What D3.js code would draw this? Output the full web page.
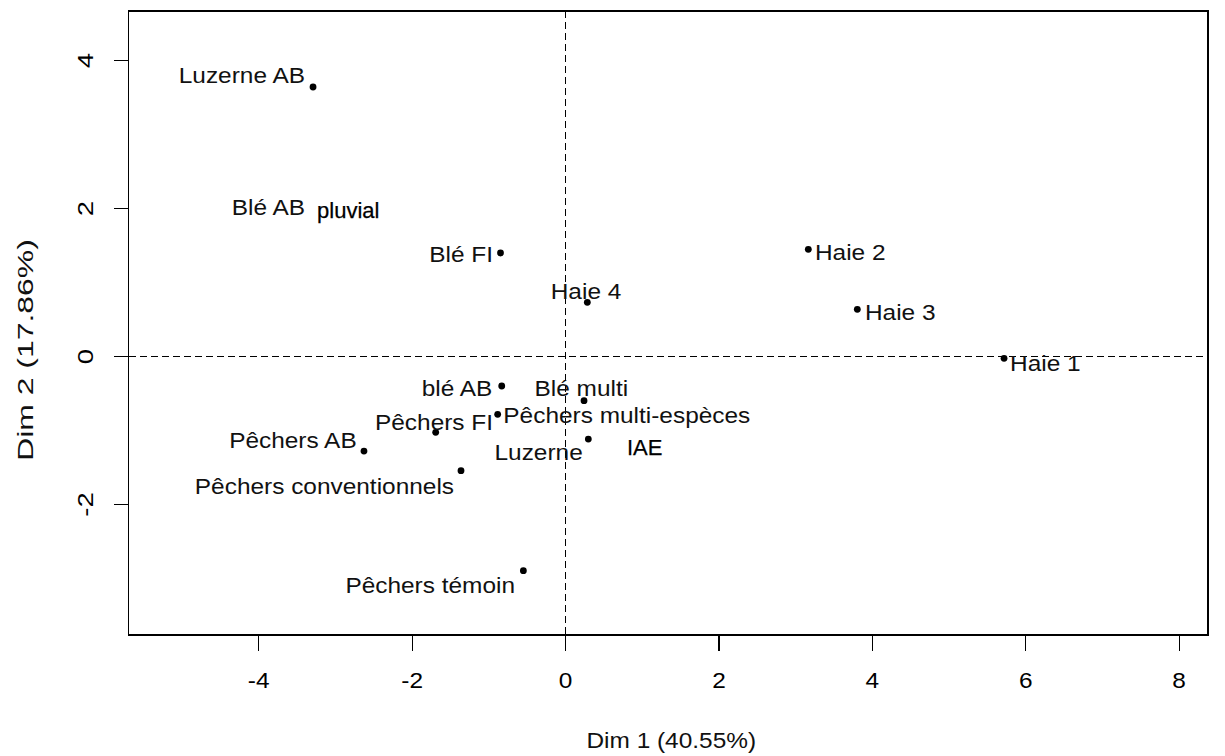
<!DOCTYPE html>
<html><head><meta charset="utf-8">
<script src="https://cdn.jsdelivr.net/npm/d3@7/dist/d3.min.js"></script>
<style>body{margin:0;background:#fff}svg{display:block}</style>
</head><body><svg id="c" width="1225" height="756"></svg>
<script>
// ---- data ----
const names = ["Luzerne AB","Blé AB","Blé FI","Haie 4","Haie 2","Haie 3","Haie 1","blé AB","Blé multi",
  "Pêchers multi-espèces","Pêchers FI","Luzerne","Pêchers AB","Pêchers conventionnels","Pêchers témoin"];
const dim1 = [-3.285,-3.20,-0.841,0.291,3.172,3.811,5.724,-0.825,0.248,-0.878,-1.686,0.304,-2.621,-1.356,-0.543];
const dim2 = [3.635,1.98,1.392,0.726,1.442,0.631,-0.031,-0.405,-0.604,-0.788,-1.031,-1.122,-1.284,-1.550,-2.901];
// label anchor points (in Dim units, as placed by the label-repel step)
const labelDim1 = [-3.390,-3.390,-0.939,0.274,3.259,3.911,5.802,-0.948,0.213,-0.804,-1.708,0.231,-2.716,-1.447,-0.652];
const labelDim2 = [3.797,2.014,1.372,0.872,1.405,0.590,-0.099,-0.437,-0.437,-0.797,-0.888,-1.297,-1.139,-1.764,-3.099];
const labelAnchor = ["end","end","end","middle","start","start","start","end","middle","start","middle","end","end","end","end"];
// overlaid annotations
const notes = ["pluvial","IAE"];
const noteDim1 = [-3.233,0.808];
const noteDim2 = [1.973,-1.230];
const xTicks = [-4,-2,0,2,4,6,8];
const yTicks = [-2,0,2,4];
const xTitle = "Dim 1 (40.55%)";
const yTitle = "Dim 2 (17.86%)";
const xDomain = [-5.691, 8.383];
const yDomain = [-3.770, 4.662];

// ---- layout ----
const L = 128.5, R = 1208, T = 11, B = 635;
const FONT = "'Liberation Sans', Arial, sans-serif";
const FS = 22, SX = 1.11;
const svg = d3.select("#c");
const x = d3.scaleLinear().domain(xDomain).range([L, R]);
const y = d3.scaleLinear().domain(yDomain).range([B, T]);

// reference lines
svg.append("line").attr("x1", L).attr("x2", R).attr("y1", Math.round(y(0)) + 0.5).attr("y2", Math.round(y(0)) + 0.5)
  .attr("stroke", "#000").attr("stroke-width", 1.3).attr("stroke-dasharray", "7,4").attr("shape-rendering", "crispEdges");
svg.append("line").attr("x1", Math.round(x(0)) + 0.5).attr("x2", Math.round(x(0)) + 0.5).attr("y1", T).attr("y2", B)
  .attr("stroke", "#000").attr("stroke-width", 1.3).attr("stroke-dasharray", "7,4").attr("shape-rendering", "crispEdges");

// axes
const xAxis = d3.axisBottom(x).tickValues(xTicks).tickSize(16).tickSizeOuter(0).tickFormat(d3.format("d"));
const gx = svg.append("g").attr("transform", `translate(0,${B})`).call(xAxis);
gx.select(".domain").remove();
gx.selectAll("line").attr("stroke", "#000").attr("stroke-width", 1.2).attr("shape-rendering", "crispEdges");
gx.selectAll("text").remove();
gx.selectAll(".tick").append("text")
  .attr("transform", `translate(0,53) scale(${SX},1)`)
  .attr("text-anchor", "middle").attr("font-family", FONT).attr("font-size", FS).attr("fill", "#000")
  .text(d => d);

const yAxis = d3.axisLeft(y).tickValues(yTicks).tickSize(15).tickSizeOuter(0);
const gy = svg.append("g").attr("transform", `translate(${L},0)`).call(yAxis);
gy.select(".domain").remove();
gy.selectAll("line").attr("stroke", "#000").attr("stroke-width", 1.2).attr("shape-rendering", "crispEdges");
gy.selectAll("text").remove();
gy.selectAll(".tick").append("text")
  .attr("transform", `translate(-35.5,0) rotate(-90) scale(1.25,1.04)`)
  .attr("text-anchor", "middle").attr("font-family", FONT).attr("font-size", FS).attr("fill", "#000")
  .text(d => d);

// box
svg.append("rect").attr("x", L).attr("y", T).attr("width", R - L).attr("height", B - T)
  .attr("fill", "none").attr("stroke", "#000").attr("stroke-width", 1.2).attr("shape-rendering", "crispEdges");

// titles
svg.append("text").attr("transform", `translate(${(L + R) / 2 + 3},748) scale(${SX},1)`)
  .attr("text-anchor", "middle").attr("font-family", FONT).attr("font-size", FS).attr("fill", "#111").text(xTitle);
svg.append("text").attr("transform", `translate(33,${(T + B) / 2 + 27}) rotate(-90) scale(1.45,1.0)`)
  .attr("text-anchor", "middle").attr("font-family", FONT).attr("font-size", FS).attr("fill", "#111").text(yTitle);

// points
svg.append("g").selectAll("circle").data(names).join("circle")
  .attr("cx", (d, i) => x(dim1[i])).attr("cy", (d, i) => y(dim2[i])).attr("r", 3.4).attr("fill", "#000");

// labels
svg.append("g").selectAll("text").data(names).join("text")
  .attr("transform", (d, i) => `translate(${x(labelDim1[i])},${y(labelDim2[i]) + 0.36 * FS}) scale(${SX},1)`)
  .attr("text-anchor", (d, i) => labelAnchor[i])
  .attr("font-family", FONT).attr("font-size", FS).attr("fill", "#111").text(d => d);

// annotations on white patches
const ng = svg.append("g");
notes.forEach((t, i) => {
  const g = ng.append("g");
  const rect = g.append("rect").attr("fill", "#fff");
  const txt = g.append("text").attr("x", x(noteDim1[i])).attr("y", y(noteDim2[i]) + 0.36 * FS)
    .attr("font-family", FONT).attr("font-size", FS).attr("fill", "#000").attr("stroke", "#000")
    .attr("stroke-width", 0.25).text(t);
  const bb = txt.node().getBBox();
  rect.attr("x", bb.x - 4).attr("y", bb.y).attr("width", bb.width + 8).attr("height", bb.height);
});
</script></body></html>
